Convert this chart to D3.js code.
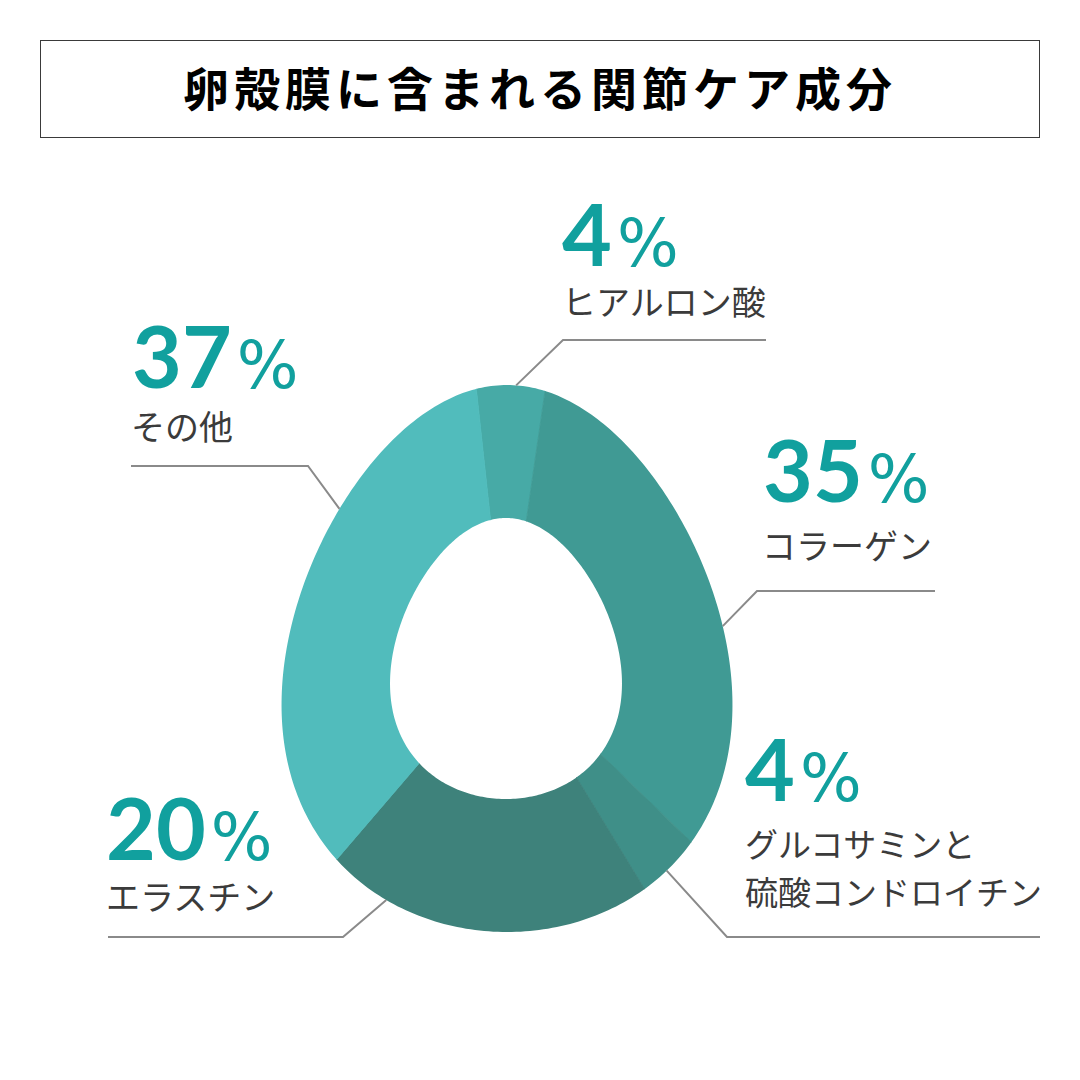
<!DOCTYPE html>
<html><head><meta charset="utf-8">
<script src="https://cdn.jsdelivr.net/npm/d3@7"></script>
<style>html,body{margin:0;padding:0;background:#fff}svg{display:block}</style>
</head><body>
<svg id="chart" width="1080" height="1080"></svg>
<script>
// ---- data ----
const title = "卵殻膜に含まれる関節ケア成分";
const categories = ["ヒアルロン酸", "コラーゲン", "グルコサミンと硫酸コンドロイチン", "エラスチン", "その他"];
const labelLines = [["ヒアルロン酸"], ["コラーゲン"], ["グルコサミンと", "硫酸コンドロイチン"], ["エラスチン"], ["その他"]];
const values = [4, 35, 4, 20, 37];

// ---- style / layout ----
const colors = ["#47aaa6", "#409a94", "#3f8f88", "#3e827b", "#51bcbc"];
const center = [506, 662];
const startDeg = -6.2;
const outerEgg = {cx: 507, top: 385, bottom: 932, a: 222, k: 0.18};
const innerEgg = {cx: 506, top: 518, bottom: 799, a: 114, k: 0.19};
const layout = [
  {px: 562, py: 266, lx: 562, ly: 315, fs: 34, ang: 2.1,   elbow: [563, 340], end: [766, 340]},
  {px: 763, py: 502, lx: 762, ly: 559, fs: 34, ang: 80.6,  elbow: [757, 591], end: [935, 591]},
  {px: 745, py: 801, lx: 745, ly: 857, fs: 33, ang: 142.4, elbow: [727, 937], end: [1040, 937]},
  {px: 106, py: 860, lx: 106, ly: 910, fs: 34, ang: 206.7, elbow: [343, 937], end: [108, 937]},
  {px: 132, py: 388, lx: 131, ly: 440, fs: 34, ang: 312.6, elbow: [308, 466], end: [131, 466]}
];

const svg = d3.select("#chart");

// title box
svg.append("rect").attr("x", 40.5).attr("y", 40.5).attr("width", 999).attr("height", 97)
  .attr("fill", "none").attr("stroke", "#3a3a3a").attr("stroke-width", 1);
svg.append("text").attr("x", 540).attr("y", 106).attr("text-anchor", "middle")
  .attr("font-family", "'Noto Sans CJK JP', sans-serif").attr("font-weight", 700)
  .attr("font-size", 46).attr("letter-spacing", 5).attr("fill", "#000")
  .text(title);

// egg outlines
function eggPoints(e, n) {
  const cy0 = (e.top + e.bottom) / 2, b = (e.bottom - e.top) / 2;
  return d3.range(n).map(i => {
    const t = i / n * 2 * Math.PI;
    return [e.cx + e.a * Math.sin(t) * (1 - e.k * Math.cos(t)), cy0 - b * Math.cos(t)];
  });
}
function insideEgg(e, x, y) {
  const cy0 = (e.top + e.bottom) / 2, b = (e.bottom - e.top) / 2;
  const c = (cy0 - y) / b;
  if (Math.abs(c) > 1) return false;
  const hw = e.a * Math.sqrt(1 - c * c) * (1 - e.k * c);
  return Math.abs(x - e.cx) <= hw;
}
function edgePoint(e, deg) {
  const r = deg * Math.PI / 180;
  let lo = 0, hi = 500;
  for (let i = 0; i < 40; i++) {
    const m = (lo + hi) / 2;
    if (insideEgg(e, center[0] + m * Math.sin(r), center[1] - m * Math.cos(r))) lo = m; else hi = m;
  }
  return [center[0] + lo * Math.sin(r), center[1] - lo * Math.cos(r)];
}
const line = d3.line().curve(d3.curveLinearClosed);
const ringPath = line(eggPoints(outerEgg, 360)) + line(eggPoints(innerEgg, 360));

const defs = svg.append("defs");
defs.append("clipPath").attr("id", "ring").append("path")
  .attr("d", ringPath).attr("clip-rule", "evenodd");

const pie = d3.pie().sort(null)
  .startAngle(startDeg * Math.PI / 180)
  .endAngle(startDeg * Math.PI / 180 + 2 * Math.PI);
const arcs = pie(values);
const arc = d3.arc().innerRadius(0).outerRadius(460);

svg.append("g").attr("clip-path", "url(#ring)")
  .append("g").attr("transform", `translate(${center[0]},${center[1]})`)
  .selectAll("path").data(arcs).join("path")
  .attr("d", arc)
  .attr("fill", (d, i) => colors[i])
  .attr("stroke", (d, i) => colors[i]).attr("stroke-width", 0.8);

// leader lines
const pl = d3.line();
svg.append("g").selectAll("path").data(layout).join("path")
  .attr("d", d => pl([edgePoint(outerEgg, d.ang), d.elbow, d.end]))
  .attr("fill", "none").attr("stroke", "#8a8a8a").attr("stroke-width", 2);

// labels
const lab = svg.append("g");
values.forEach((v, i) => {
  const L = layout[i];
  const t = lab.append("text").attr("x", L.px).attr("y", L.py).attr("fill", "#11a09e");
  t.append("tspan").attr("font-family", "Lato, 'Noto Sans', sans-serif")
    .attr("font-size", 86).attr("font-weight", 700).text(v);
  t.append("tspan").attr("font-family", "'DejaVu Sans', sans-serif")
    .attr("font-size", 65).attr("font-weight", 400).attr("dx", 5).text("%");
  labelLines[i].forEach((s, j) => {
    lab.append("text").attr("x", L.lx).attr("y", L.ly + j * 48)
      .attr("font-family", "'Noto Sans CJK JP', sans-serif").attr("font-size", L.fs)
      .attr("fill", "#3b3b3b").text(s);
  });
});
</script>
</body></html>
